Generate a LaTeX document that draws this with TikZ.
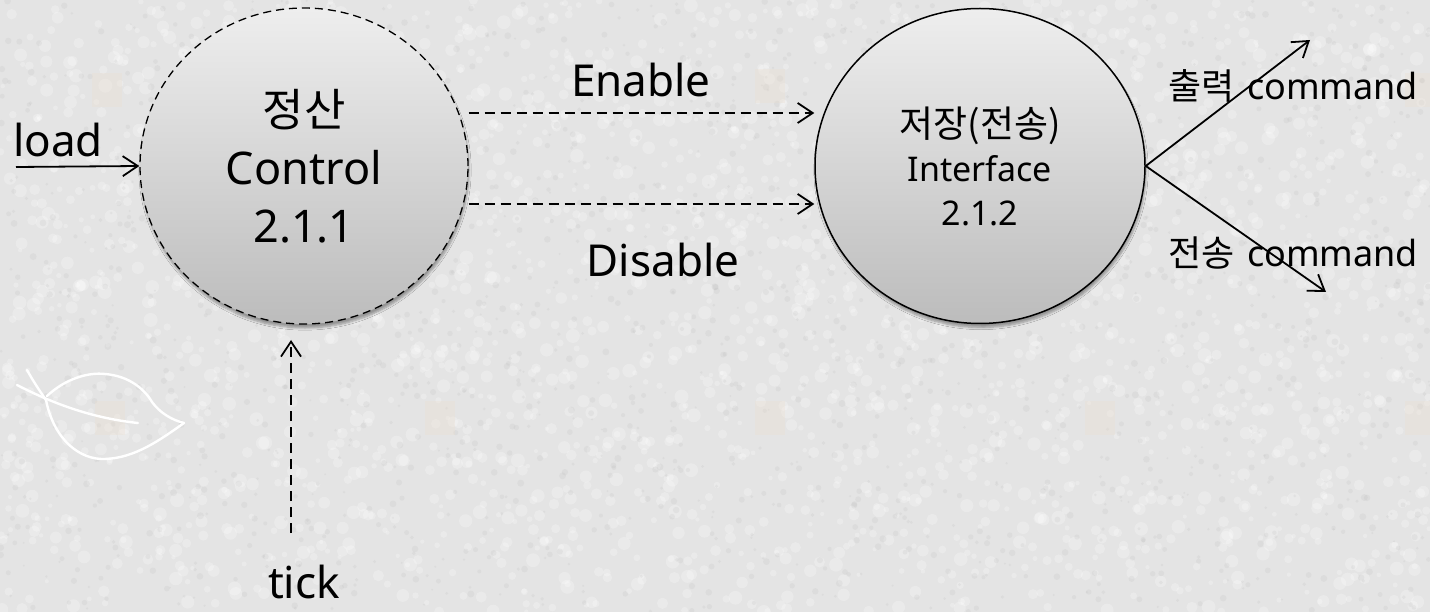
\documentclass[tikz,border=0pt]{standalone}
\usepackage{fontspec}
\setmainfont{Noto Sans}
\newfontfamily\kr{Noto Sans CJK KR}
\usetikzlibrary{arrows.meta,shapes.geometric,shadows.blur}

\definecolor{paper}{RGB}{228,228,228}
\definecolor{speck}{RGB}{185,185,185}
\definecolor{balltop}{RGB}{238,238,238}
\definecolor{ballbot}{RGB}{188,188,188}
\definecolor{wmark}{RGB}{236,222,206}

\begin{document}
\begin{tikzpicture}[x=1pt,y=-1pt,
  bubble/.style={ellipse, draw=black, top color=balltop, bottom color=ballbot,
    inner sep=0pt, align=center, text=black,
    blur shadow={shadow xshift=1pt, shadow yshift=-4pt, shadow opacity=35, shadow blur steps=6}},
  flow/.style={line width=1.8pt, -{Straight Barb[length=15pt,width=20pt,line width=1.8pt]}},
  dflow/.style={flow, dash pattern=on 10pt off 6pt},
  lbl/.style={inner sep=0pt, anchor=base, font=\fontsize{44}{50}\selectfont},
  cmd/.style={inner sep=0pt, anchor=base west, font=\fontsize{36}{42}\selectfont},
  leaf/.style={draw=white, line width=2.4pt, line cap=round},
]
\useasboundingbox (0,0) rectangle (1430,612);

% paper background with a mottled texture
\fill[paper] (0,0) rectangle (1430,612);
\pgfmathsetseed{11}
\foreach \k in {1,...,2600}{
  \pgfmathsetmacro\px{rnd*1430}
  \pgfmathsetmacro\py{rnd*612}
  \pgfmathsetmacro\pr{2+rnd*5}
  \fill[white,opacity=0.25] (\px,\py) circle[radius=\pr pt];
}
\foreach \k in {1,...,1800}{
  \pgfmathsetmacro\px{rnd*1430}
  \pgfmathsetmacro\py{rnd*612}
  \pgfmathsetmacro\pr{1+rnd*2.5}
  \fill[speck,opacity=0.18] (\px,\py) circle[radius=\pr pt];
}

% faint tiled marks in the paper
\foreach \mx/\my in {107/90, 770/86, 1420/90, 110/418, 440/418, 770/418, 1100/418, 1420/418}
  \fill[wmark,opacity=0.3] (\mx-15,\my-17) rectangle (\mx+15,\my+17);

% leaf sketch
\draw[leaf] (27,370) .. controls (36,386) and (42,394) .. (46,400)
  .. controls (54,440) and (80,460) .. (105,459)
  .. controls (135,458) and (160,440) .. (184,423);
\draw[leaf] (17,385) .. controls (50,402) and (90,418) .. (138,423);
\draw[leaf] (47,396) .. controls (65,379) and (88,372) .. (105,374)
  .. controls (130,376) and (145,390) .. (152,402)
  .. controls (160,413) and (172,420) .. (184,423);

% processes
\node[bubble, line width=1.3pt, dash pattern=on 8pt off 5pt,
      minimum width=328pt, minimum height=316pt,
      font=\fontsize{45}{58}\selectfont] (c1) at (304,166)
  {{\kr 정산}\\Control\\2.1.1};
\node[bubble, line width=1.5pt,
      minimum width=330pt, minimum height=315pt,
      font=\fontsize{34}{44}\selectfont] (c2) at (980,166)
  {{\kr\fontsize{37}{44}\selectfont 저장(전송)}\\Interface\\2.1.2};

% labels
\node[lbl, anchor=base west] (ld) at (13,157) {load};
\node[lbl] (en) at (641,97) {Enable};
\node[lbl] (dis) at (663,277) {Disable};
\node[lbl] (tk) at (304,598) {tick};
\node[cmd] (o1) at (1168,100) {{\kr 출력}\hspace{0.35em}command};
\node[cmd] (o2) at (1168,267) {{\kr 전송}\hspace{0.35em}command};

% free ends of the flows
\coordinate (loadin) at (16,167);
\coordinate (tickfoot) at (291,533);
\coordinate (tickhead) at (291,340);
\coordinate (up) at (1310,40);
\coordinate (down) at (1326,292);

% flows
\draw[flow] (loadin) -- (c1.west);
\draw[dflow] ([yshift=53pt]c1.east) -- ([yshift=53pt]c2.west);
\draw[dflow] ([yshift=-38pt]c1.east) -- ([yshift=-38pt]c2.west);
\draw[dflow] (tickfoot) -- (tickhead);
\draw[flow] (c2.east) -- (up);
\draw[flow] (c2.east) -- (down);
\end{tikzpicture}
\end{document}
